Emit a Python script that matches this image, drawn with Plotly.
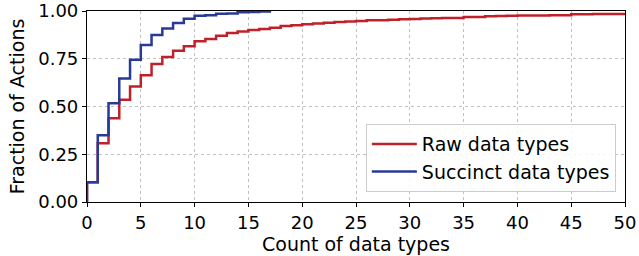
import plotly.graph_objects as go

# Data
raw_x = [0, 0, 1, 2, 3, 4, 5, 6, 7, 8, 9, 10, 11, 12, 13, 14, 15, 16, 17, 18, 19, 20,
         21, 22, 23, 24, 25, 26, 27, 28, 29, 30, 31, 32, 33, 34, 35, 36, 37, 38, 39,
         40, 41, 42, 43, 44, 45, 46, 47, 48, 49, 50]
raw_y = [0.0, 0.103, 0.308, 0.439, 0.535, 0.605, 0.664, 0.722, 0.759, 0.792, 0.815,
         0.841, 0.853, 0.871, 0.885, 0.893, 0.900, 0.906, 0.912, 0.921, 0.926, 0.931,
         0.934, 0.938, 0.943, 0.945, 0.947, 0.951, 0.952, 0.954, 0.957, 0.958, 0.961,
         0.962, 0.963, 0.964, 0.968, 0.969, 0.973, 0.974, 0.975, 0.976, 0.977, 0.977,
         0.978, 0.978, 0.983, 0.983, 0.984, 0.984, 0.984, 0.984]
succ_x = [0, 0, 1, 2, 3, 4, 5, 6, 7, 8, 9, 10, 11, 12, 13, 14, 15, 16, 17]
succ_y = [0.0, 0.103, 0.350, 0.517, 0.647, 0.745, 0.822, 0.874, 0.909, 0.937, 0.960,
          0.975, 0.978, 0.985, 0.987, 0.993, 0.995, 0.997, 1.0]
x_ticks = [0, 5, 10, 15, 20, 25, 30, 35, 40, 45, 50]
y_ticks = [0.0, 0.25, 0.5, 0.75, 1.0]
y_tick_text = ["0.00", "0.25", "0.50", "0.75", "1.00"]

RED = "#c0202a"
BLUE = "#283a96"
FONT = "DejaVu Sans"

fig = go.Figure()
fig.add_trace(go.Scatter(x=raw_x, y=raw_y, mode="lines", line_shape="hv",
                         line=dict(color=RED, width=2.5), name="Raw data types"))
fig.add_trace(go.Scatter(x=succ_x, y=succ_y, mode="lines", line_shape="hv",
                         line=dict(color=BLUE, width=2.5), name="Succinct data types"))

axis_common = dict(
    showline=True, linecolor="black", linewidth=1.2, mirror=True,
    ticks="outside", ticklen=4, tickcolor="black", tickwidth=1.2,
    showgrid=True, gridcolor="#c0c0c0", griddash="dot", gridwidth=1,
    zeroline=False, automargin=False,
    tickfont=dict(family=FONT, size=18, color="black"),
)

fig.update_layout(
    width=639, height=256,
    margin=dict(l=87, r=14, t=11, b=54),
    paper_bgcolor="white", plot_bgcolor="white",
    font=dict(family=FONT, color="black"),
    xaxis=dict(range=[0, 50], tickvals=x_ticks,
               title=dict(text="Count of data types", font=dict(family=FONT, size=19), standoff=4),
               **axis_common),
    yaxis=dict(range=[0, 1.0], tickvals=y_ticks, ticktext=y_tick_text,
               title=dict(text="Fraction of Actions", font=dict(family=FONT, size=19), standoff=8),
               **axis_common),
    legend=dict(x=0.983, y=0.052, xanchor="right", yanchor="bottom",
                bgcolor="rgba(255,255,255,0.85)", bordercolor="#cccccc", borderwidth=1,
                itemwidth=45,
                font=dict(family=FONT, size=19, color="black"), tracegroupgap=0),
    showlegend=True,
)

fig.write_html("out.html", config={"displayModeBar": False},
               post_script="document.body.style.margin='0';document.body.style.overflow='hidden';")
